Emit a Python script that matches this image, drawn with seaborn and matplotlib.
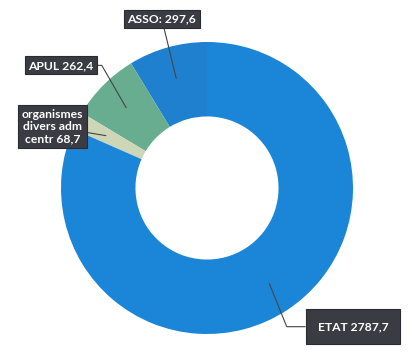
import numpy as np
import matplotlib
matplotlib.use("Agg")
import matplotlib.pyplot as plt
import seaborn as sns

# Donnees
labels = ["ASSO: 297,6", "APUL 262,4", "organismes\ndivers adm\ncentr 68,7", "ETAT 2787,7"]
values = [297.6, 262.4, 68.7, 2787.7]
colors = ["#1f80d0", "#68ad8f", "#cdd6b6", "#1b86d7"]

# position des etiquettes (coord. des donnees, rayon = 1)
label_pos = [(-0.31, 1.16), (-1.0, 0.84), (-1.06, 0.42), (1.0, -0.95)]
label_pad = [0.3, 0.3, 0.3, 1.0]
conn = [
    "arc3,rad=0",
    "angle,angleA=0,angleB=120,rad=0",
    "arc3,rad=0",
    "angle,angleA=0,angleB=112,rad=0",
]

sns.set_theme(style="white")
plt.rcParams["font.family"] = ["Lato", "DejaVu Sans"]

fig = plt.figure(figsize=(4.13, 3.52), dpi=100)
ax = fig.add_axes([0, 0, 1, 1])

wedges, _ = ax.pie(values, colors=colors, startangle=90, counterclock=True,
                   wedgeprops=dict(width=0.51, edgecolor="none"))

for w, lab, pos, pad, cs in zip(wedges, labels, label_pos, label_pad, conn):
    ang = np.deg2rad((w.theta1 + w.theta2) / 2)
    r = 0.78
    xy = (r * np.cos(ang), r * np.sin(ang))
    ax.annotate(lab, xy=xy, xytext=pos, ha="center", va="center",
                fontsize=8.7, fontweight="bold", color="white",
                linespacing=1.15,
                bbox=dict(boxstyle=f"square,pad={pad}", fc="#3b3b43", ec="#2a2a30", lw=0.8),
                arrowprops=dict(arrowstyle="-", color="#444448", lw=0.8,
                                connectionstyle=cs, shrinkA=0, shrinkB=0))

ax.set_xlim(-207 / 146, 206 / 146)
ax.set_ylim(-164 / 146, 188 / 146)
ax.set_aspect("auto")
ax.axis("off")

fig.savefig("out.png", dpi=100)
plt.close(fig)
